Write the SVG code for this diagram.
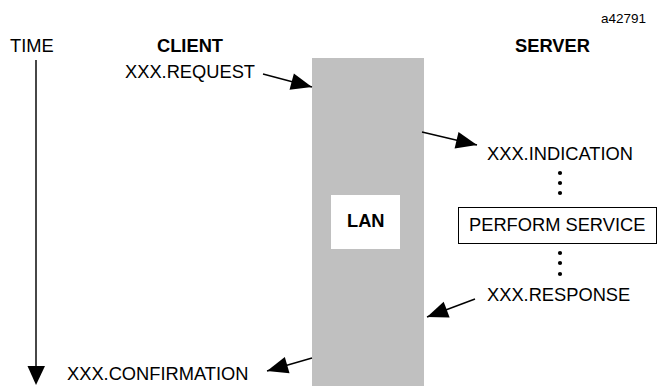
<svg xmlns="http://www.w3.org/2000/svg" width="657" height="386" viewBox="0 0 657 386">
  <defs>
    <marker id="ah" markerUnits="userSpaceOnUse" markerWidth="24" markerHeight="20" refX="21" refY="8.5" orient="auto" overflow="visible">
      <path d="M0,0 L21,8.5 L0,17 z" fill="#000"/>
    </marker>
    <style>
      .t { font-family: "Liberation Sans", Arial, sans-serif; font-size: 18.3px; fill: #000; }
      .b { font-weight: bold; }
      .conn line { stroke: #000; stroke-width: 1.4; marker-end: url(#ah); }
      .dot { fill: #000; }
    </style>
  </defs>
  <rect width="657" height="386" fill="#fff"/>

  <g id="lan">
    <rect x="312" y="58" width="112" height="330" fill="#c0c0c0"/>
    <rect x="331" y="195" width="69" height="54" fill="#fff"/>
    <text class="t b" x="347" y="227">LAN</text>
  </g>

  <g id="time">
    <line x1="36" y1="60" x2="36" y2="368" stroke="#333" stroke-width="1.8"/>
    <polygon points="27.5,366 45,366 36,385" fill="#000"/>
    <text class="t" x="10" y="52">TIME</text>
  </g>

  <g id="labels">
    <text class="t" x="601" y="23" style="font-size:13.5px">a42791</text>
    <text class="t b" x="157" y="52">CLIENT</text>
    <text class="t b" x="515" y="52">SERVER</text>
  </g>

  <g id="request"><text class="t" x="125" y="78">XXX.REQUEST</text></g>
  <g id="indication"><text class="t" x="487" y="160">XXX.INDICATION</text></g>
  <g id="perform">
    <rect x="458.5" y="207.5" width="198" height="36" fill="#fff" stroke="#000" stroke-width="1"/>
    <text class="t" x="469" y="231">PERFORM SERVICE</text>
  </g>
  <g id="response"><text class="t" x="487" y="301">XXX.RESPONSE</text></g>
  <g id="confirmation"><text class="t" x="67" y="380">XXX.CONFIRMATION</text></g>

  <g id="dots">
    <circle class="dot" cx="560" cy="173" r="2.1"/>
    <circle class="dot" cx="560" cy="183" r="2.1"/>
    <circle class="dot" cx="560" cy="193" r="2.1"/>
    <circle class="dot" cx="560" cy="253" r="2.1"/>
    <circle class="dot" cx="560" cy="263" r="2.1"/>
    <circle class="dot" cx="560" cy="274" r="2.1"/>
  </g>

  <g id="connectors" class="conn">
    <line x1="263" y1="74" x2="312" y2="87"/>
    <line x1="422" y1="132" x2="477" y2="145"/>
    <line x1="475" y1="299" x2="427" y2="317"/>
    <line x1="312" y1="358" x2="267" y2="371"/>
  </g>
</svg>
